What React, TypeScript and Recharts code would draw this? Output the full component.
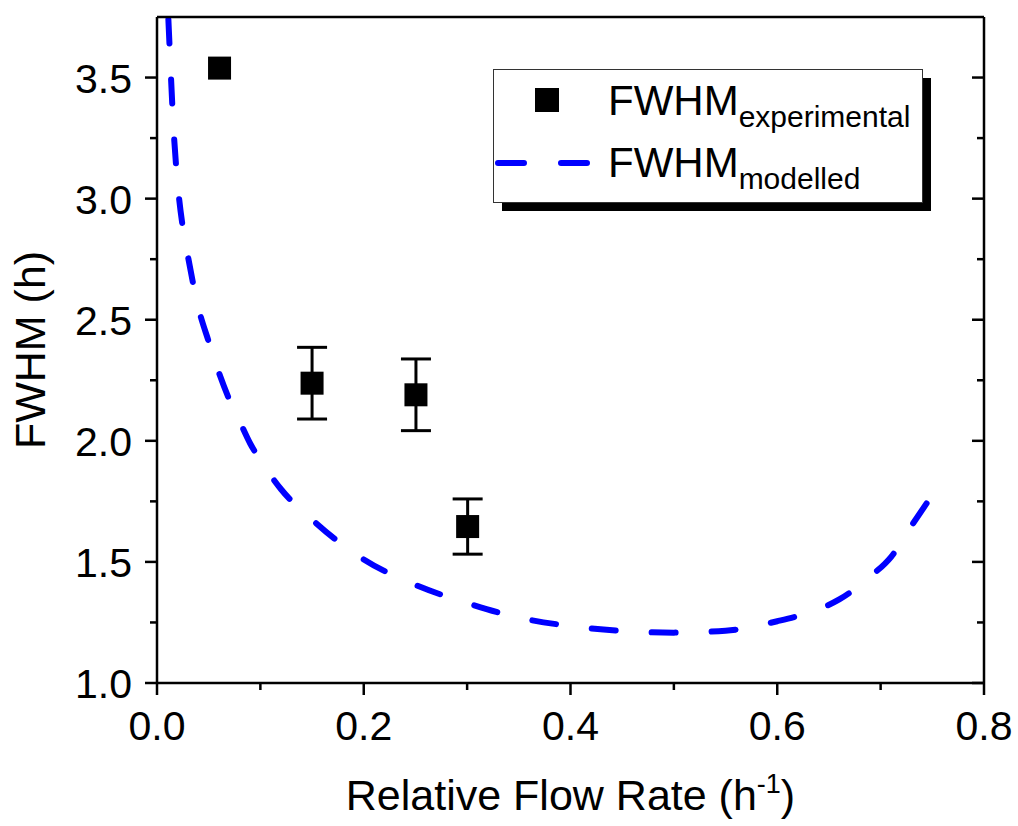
import React from 'react';
import { ComposedChart, Line, Scatter, XAxis, YAxis, ErrorBar, Legend } from 'recharts';

const FONT = 'Liberation Sans, Arial, sans-serif';

// experimental points
const expX = [0.0605, 0.15, 0.2505, 0.3005];
const expY = [3.539, 2.238, 2.19, 1.646];
const expErr = [0, 0.148, 0.148, 0.114];

// modelled curve
const curveX = [0.011, 0.013, 0.016, 0.02, 0.025, 0.03, 0.04, 0.05, 0.06, 0.07, 0.08, 0.09, 0.1, 0.12, 0.15, 0.175, 0.2, 0.25, 0.3, 0.35, 0.4, 0.45, 0.5, 0.55, 0.6, 0.63, 0.66, 0.69, 0.71, 0.73, 0.745];
const curveY = [3.74, 3.55, 3.29, 3.06, 2.88, 2.76, 2.55, 2.41, 2.28, 2.17, 2.08, 1.99, 1.92, 1.8, 1.675, 1.585, 1.51, 1.405, 1.33, 1.27, 1.235, 1.215, 1.208, 1.216, 1.255, 1.29, 1.345, 1.44, 1.52, 1.65, 1.745];

// ticks
const xMajor = [0, 0.2, 0.4, 0.6, 0.8];
const xMajorLabels = ['0.0', '0.2', '0.4', '0.6', '0.8'];
const xMinor = [0.1, 0.3, 0.5, 0.7];
const yMajor = [1.0, 1.5, 2.0, 2.5, 3.0, 3.5];
const yMajorLabels = ['1.0', '1.5', '2.0', '2.5', '3.0', '3.5'];
const yMinor = [1.25, 1.75, 2.25, 2.75, 3.25];

const xTicks = [...xMajor, ...xMinor].sort((a, b) => a - b);
const yTicks = [...yMajor, ...yMinor].sort((a, b) => a - b);

const expData = expX.map((x, i) => ({ x, y: expY[i], err: expErr[i] }));
const curveData = curveX.map((x, i) => ({ x, y: curveY[i] }));

const MAJOR = 12;
const MINOR = 7;
const TICK_W = 2.5;

const BottomTick = (props: any) => {
  const { x, y, payload } = props;
  const idx = xMajor.indexOf(payload.value);
  const major = idx >= 0;
  return (
    <g>
      <line x1={x} x2={x} y1={y} y2={y + (major ? MAJOR : MINOR)} stroke="#000" strokeWidth={TICK_W} />
      {major && (
        <text x={x} y={y + 57} textAnchor="middle" fontSize={41} fontFamily={FONT} fill="#000">
          {xMajorLabels[idx]}
        </text>
      )}
    </g>
  );
};

const TopTick = (props: any) => {
  const { x, y, payload } = props;
  const major = xMajor.indexOf(payload.value) >= 0;
  return <line x1={x} x2={x} y1={y} y2={y + (major ? MAJOR : MINOR)} stroke="#000" strokeWidth={TICK_W} />;
};

const LeftTick = (props: any) => {
  const { x, y, payload } = props;
  const idx = yMajor.indexOf(payload.value);
  const major = idx >= 0;
  return (
    <g>
      <line x1={x} x2={x - (major ? MAJOR : MINOR)} y1={y} y2={y} stroke="#000" strokeWidth={TICK_W} />
      {major && (
        <text x={x - 25} y={y + 15} textAnchor="end" fontSize={41} fontFamily={FONT} fill="#000">
          {yMajorLabels[idx]}
        </text>
      )}
    </g>
  );
};

const RightTick = (props: any) => {
  const { x, y, payload } = props;
  const major = yMajor.indexOf(payload.value) >= 0;
  return <line x1={x} x2={x - (major ? MAJOR : MINOR)} y1={y} y2={y} stroke="#000" strokeWidth={TICK_W} />;
};

const SquareShape = (props: any) => {
  const { cx, cy } = props;
  if (cx == null || cy == null) return null;
  return <rect x={cx - 11.5} y={cy - 11.5} width={23} height={23} fill="#000" />;
};

const XTitle = (props: any) => {
  const vb = props.viewBox || {};
  const cx = vb.x + vb.width / 2;
  const y = vb.y + 127;
  return (
    <text x={cx} y={y} textAnchor="middle" fontSize={43} fontFamily={FONT} fill="#000">
      Relative Flow Rate (h
      <tspan fontSize={27} dy={-17}>-1</tspan>
      <tspan dy={17}>)</tspan>
    </text>
  );
};

const YTitle = (props: any) => {
  const vb = props.viewBox || {};
  const cy = vb.y + vb.height / 2;
  const x = 45;
  return (
    <text x={x} y={cy} textAnchor="middle" fontSize={43} fontFamily={FONT} fill="#000" transform={`rotate(-90, ${x}, ${cy})`}>
      FWHM (h)
    </text>
  );
};

const LegendBox = () => (
  <svg width={445} height={150} style={{ display: 'block', overflow: 'visible' }}>
    <rect x={9} y={9} width={429} height={133} fill="#000" />
    <rect x={0.5} y={0.5} width={429} height={133} fill="#fff" stroke="#333" strokeWidth={1} />
    <rect x={42} y={19} width={24} height={24} fill="#000" />
    <text x={115} y={46} fontSize={42} fontFamily={FONT} fill="#000">
      FWHM<tspan fontSize={30} dy={12}>experimental</tspan>
    </text>
    <line x1={5} x2={95} y1={94} y2={94} stroke="#0000ff" strokeWidth={6} strokeDasharray="26 37" strokeLinecap="round" />
    <text x={115} y={108} fontSize={42} fontFamily={FONT} fill="#000">
      FWHM<tspan fontSize={30} dy={12}>modelled</tspan>
    </text>
  </svg>
);

export default function App() {
  return (
    <div style={{ position: 'absolute', left: 0, top: 0, width: 1018, height: 826, background: '#fff' }}>
      <ComposedChart width={1018} height={826} margin={{ top: 16, right: 33, left: 0, bottom: 0 }}>
        <XAxis
          xAxisId="main"
          dataKey="x"
          type="number"
          domain={[0, 0.8]}
          ticks={xTicks}
          interval={0}
          height={143}
          tickSize={0}
          tickMargin={0}
          tickLine={false}
          tick={<BottomTick />}
          axisLine={{ stroke: '#000', strokeWidth: 2.5 }}
          allowDataOverflow
          label={{ content: <XTitle /> }}
        />
        <XAxis
          xAxisId="top"
          orientation="top"
          type="number"
          domain={[0, 0.8]}
          ticks={xTicks}
          interval={0}
          height={1}
          tickSize={0}
          tickMargin={0}
          tickLine={false}
          tick={<TopTick />}
          axisLine={{ stroke: '#000', strokeWidth: 2.5 }}
          allowDataOverflow
        />
        <YAxis
          yAxisId="main"
          type="number"
          domain={[1, 3.75]}
          ticks={yTicks}
          interval={0}
          width={157}
          tickSize={0}
          tickMargin={0}
          tickLine={false}
          tick={<LeftTick />}
          axisLine={{ stroke: '#000', strokeWidth: 2.5 }}
          allowDataOverflow
          label={{ content: <YTitle /> }}
        />
        <YAxis
          yAxisId="right"
          orientation="right"
          type="number"
          domain={[1, 3.75]}
          ticks={yTicks}
          interval={0}
          width={1}
          tickSize={0}
          tickMargin={0}
          tickLine={false}
          tick={<RightTick />}
          axisLine={{ stroke: '#000', strokeWidth: 2.5 }}
          allowDataOverflow
        />
        <Line
          xAxisId="main"
          yAxisId="main"
          data={curveData}
          dataKey="y"
          type="monotone"
          stroke="#0000ff"
          strokeWidth={6}
          strokeDasharray="24 36"
          strokeLinecap="round"
          dot={false}
          activeDot={false}
          isAnimationActive={false}
          name="FWHM modelled"
        />
        <Scatter
          xAxisId="main"
          yAxisId="main"
          data={expData}
          dataKey="y"
          fill="#000"
          shape={<SquareShape />}
          isAnimationActive={false}
          name="FWHM experimental"
        >
          <ErrorBar dataKey="err" direction="y" width={15} stroke="#000" strokeWidth={3} isAnimationActive={false} />
        </Scatter>
        <Legend
          layout="horizontal"
          verticalAlign="middle"
          align="center"
          content={<LegendBox />}
          wrapperStyle={{ position: 'absolute', left: 493, top: 69, width: 445, height: 150 }}
        />
      </ComposedChart>
    </div>
  );
}
